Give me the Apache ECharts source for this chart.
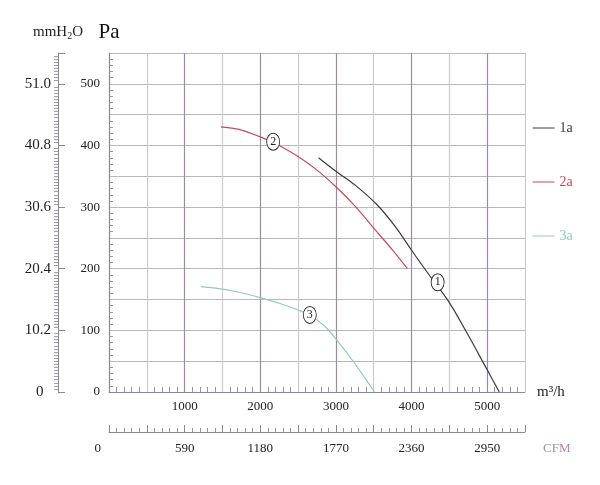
<!DOCTYPE html>
<html>
<head>
<meta charset="utf-8">
<script src="https://cdn.jsdelivr.net/npm/echarts@6/dist/echarts.min.js"></script>
<style>
  html, body { margin: 0; padding: 0; background: #fff; }
  #main { width: 600px; height: 485px; }
</style>
</head>
<body>
<div id="main"></div>
<script>
// fan curves, flow in m3/h against static pressure in Pa
var curveNames = ['1a', '2a', '3a'];
var curveColors = ['#3a3a3a', '#c8495a', '#8fcdc4'];
var curve1 = [[2770, 380], [3000, 358], [3250, 336], [3550, 303], [3800, 266], [4000, 230], [4250, 187], [4500, 145], [4750, 92], [5000, 36], [5160, 0]];
var curve2 = [[1480, 430], [1750, 425], [2000, 414], [2250, 400], [2500, 382], [2750, 360], [3000, 333], [3250, 302], [3500, 266], [3750, 230], [3945, 200]];
var curve3 = [[1215, 171], [1500, 167], [1750, 161], [2000, 153], [2250, 144], [2500, 133], [2650, 125], [2850, 107], [3000, 86], [3250, 46], [3510, 0]];
// circled curve numbers
var badges = [['1', 4345, 178], ['2', 2170, 406], ['3', 2655, 125]];

var flowMax = 5500;       // m3/h
var paMax = 550;          // Pa
var cfmPerM3h = 0.59;
var mmPerPa = 0.102;

var serif = 'Liberation Serif';
var myChart = echarts.init(document.getElementById('main'));

function badge(b) {
    return {
        coord: [b[1], b[2]],
        value: b[0],
        symbol: 'circle',
        symbolSize: [13, 17],
        itemStyle: { color: '#fff', borderColor: '#333', borderWidth: 1 },
        label: {
            show: true, position: 'inside', formatter: b[0],
            color: '#222', fontFamily: serif, fontSize: 12
        }
    };
}

var curves = [curve1, curve2, curve3];

option = {
    animation: false,
    backgroundColor: '#fff',
    textStyle: { fontFamily: serif },
    grid: { left: 109, right: 75, top: 53, bottom: 93 },
    legend: {
        orient: 'vertical',
        left: 527,
        top: 116,
        itemGap: 40,
        itemWidth: 22,
        itemHeight: 14,
        itemStyle: { opacity: 0 },
        lineStyle: { width: 1 },
        data: curveNames.map(function (n, i) {
            return { name: n, textStyle: { color: curveColors[i] } };
        }),
        textStyle: { fontFamily: serif, fontSize: 14 }
    },
    xAxis: [{
        type: 'value',
        min: 0,
        max: flowMax,
        interval: 500,
        name: 'm³/h',
        nameLocation: 'end',
        nameGap: 12,
        nameTextStyle: { fontFamily: serif, fontSize: 15, color: '#222', verticalAlign: 'middle' },
        axisLine: { onZero: false, lineStyle: { color: '#8d8496', width: 1 } },
        axisTick: { show: false },
        minorTick: { show: true, splitNumber: 5, length: -5, lineStyle: { color: '#9a93a2' } },
        splitLine: { show: true, lineStyle: { color: ['#9a8aa6', '#cdcacf'], width: 1.2 } },
        axisLabel: {
            margin: 8, color: '#222', fontFamily: serif, fontSize: 13,
            formatter: function (v) { return (v === 0 || v % 1000) ? '' : v; }
        }
    }, {
        type: 'value',
        min: 0,
        max: Math.round(flowMax * cfmPerM3h),
        interval: 295,
        position: 'bottom',
        offset: 40,
        name: 'CFM',
        nameLocation: 'end',
        nameGap: 18,
        nameTextStyle: { fontFamily: serif, fontSize: 13, color: '#a98aa8', verticalAlign: 'top', padding: [10, 0, 0, 0] },
        axisLine: { onZero: false, lineStyle: { color: '#8d8496', width: 1 } },
        axisTick: { show: true, inside: false, length: -7, lineStyle: { color: '#8d8496' } },
        minorTick: { show: true, splitNumber: 5, length: -4, lineStyle: { color: '#9a93a2' } },
        splitLine: { show: false },
        axisLabel: {
            margin: 10, color: '#222', fontFamily: serif, fontSize: 13,
            showMaxLabel: false,
            formatter: function (v) { return v % 590 ? '' : (v === 0 ? '0       ' : v); }
        }
    }],
    yAxis: [{
        type: 'value',
        min: 0,
        max: paMax,
        interval: 50,
        name: 'Pa',
        nameLocation: 'end',
        nameGap: 10,
        nameTextStyle: { fontFamily: serif, fontSize: 21, color: '#111', align: 'center' },
        axisLine: { show: true, onZero: false, lineStyle: { color: '#8d8496', width: 1 } },
        axisTick: { show: false },
        minorTick: { show: true, splitNumber: 5, length: -4, lineStyle: { color: '#9a93a2' } },
        splitLine: { show: true, lineStyle: { color: '#bdb6c2', width: 1.2 } },
        axisLabel: {
            margin: 9, color: '#222', fontFamily: serif, fontSize: 13,
            showMaxLabel: false,
            formatter: function (v) { return v % 100 ? '' : v; }
        }
    }, {
        type: 'value',
        min: 0,
        max: paMax * mmPerPa,
        interval: 10.2,
        position: 'left',
        offset: 51,
        name: '{a|mmH}{s|2}{a|O}',
        nameLocation: 'end',
        nameGap: 12,
        nameTextStyle: {
            align: 'center',
            rich: {
                a: { fontFamily: serif, fontSize: 15, color: '#222' },
                s: { fontFamily: serif, fontSize: 10, color: '#222', padding: [8, 0, 0, 0] }
            }
        },
        axisLine: { show: true, onZero: false, lineStyle: { color: '#8d8496', width: 1 } },
        axisTick: { show: true, inside: true, length: 7, lineStyle: { color: '#8d8496' } },
        minorTick: { show: true, splitNumber: 20, length: -4, lineStyle: { color: '#a39ca9' } },
        splitLine: { show: false },
        axisLabel: {
            margin: 7, color: '#222', fontFamily: serif, fontSize: 15,
            showMaxLabel: false,
            formatter: function (v) {
                var k = v / 10.2;
                if (Math.abs(k - Math.round(k)) > 1e-6) return '';
                return v === 0 ? '0  ' : v.toFixed(1);
            }
        }
    }],
    series: curves.map(function (c, i) {
        return {
            name: curveNames[i],
            type: 'line',
            xAxisIndex: 0,
            yAxisIndex: 0,
            smooth: 0.3,
            symbol: 'none',
            data: c,
            lineStyle: { color: curveColors[i], width: 1.2 },
            itemStyle: { color: curveColors[i] },
            z: 3,
            markPoint: {
                silent: true,
                z: 5,
                data: [badge(badges[i])]
            }
        };
    })
};

myChart.setOption(option);
</script>
</body>
</html>
